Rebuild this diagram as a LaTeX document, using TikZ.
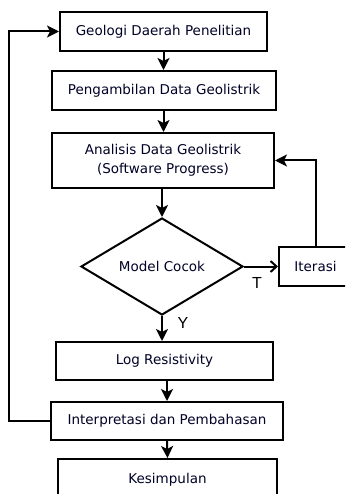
\documentclass[tikz,border=0pt]{standalone}
\usepackage{fontspec}
\setmainfont{DejaVu Sans}
\newfontfamily\lblfont{Liberation Sans}
\usetikzlibrary{arrows.meta,shapes.geometric}
\begin{document}
\begin{tikzpicture}[x=1pt,y=-1pt,
  box/.style={draw,line width=2pt,rectangle,inner sep=0pt,text=black!85!blue,
    font=\fontsize{13.5}{19}\selectfont,align=center},
  arr/.style={line width=2pt,-{Stealth[length=12pt,width=12pt,inset=3pt]}},
  openarr/.style={line width=2pt,-{Straight Barb[length=6pt,width=11pt,line width=2pt]}},
  lbl/.style={inner sep=0pt,font=\lblfont\fontsize{16}{16}\selectfont}]
\useasboundingbox (0,0) rectangle (345,494);
\clip (0,0) rectangle (345,494);
\node[box,minimum width=207pt,minimum height=39pt] (b1) at (163.5,31.5) {Geologi Daerah Penelitian};
\node[box,minimum width=224pt,minimum height=39pt] (b2) at (164,90.5) {Pengambilan Data Geolistrik};
\node[box,minimum width=222pt,minimum height=55pt] (b3) at (163,160.5) {Analisis Data Geolistrik\\(Software Progress)};
\node[box,shape=diamond,minimum width=162pt,minimum height=97pt] (dm) at (162,266.5) {Model Cocok};
\node[box,minimum width=73pt,minimum height=39pt] (it) at (315.5,266.5) {Iterasi};
\node[box,minimum width=217pt,minimum height=38pt] (lg) at (164.5,361) {Log Resistivity};
\node[box,minimum width=232pt,minimum height=38pt] (ip) at (167,421) {Interpretasi dan Pembahasan};
\node[box,minimum width=219pt,minimum height=42pt] (ks) at (167.5,480) {Kesimpulan};
\node[lbl] (lt) at (257,283) {T};
\node[lbl] (ly) at (183,323) {Y};
\draw[arr] (b1.south) -- (b1.south |- b2.north);
\draw[arr] (b2.south -| b1.south) -- (b1.south |- b3.north);
\draw[arr] (dm.north |- b3.south) -- (dm.north);
\draw[arr] (dm.south) -- (dm.south |- lg.north);
\draw[arr] (ip.north |- lg.south) -- (ip.north);
\draw[arr] (ip.south) -- (ks.north);
\draw[openarr] (dm.east) -- (it.west);
\draw[arr] (it.north) |- (b3.east);
\draw[arr] (ip.west) -- ++(-41,0) |- (b1.west);
\end{tikzpicture}
\end{document}
